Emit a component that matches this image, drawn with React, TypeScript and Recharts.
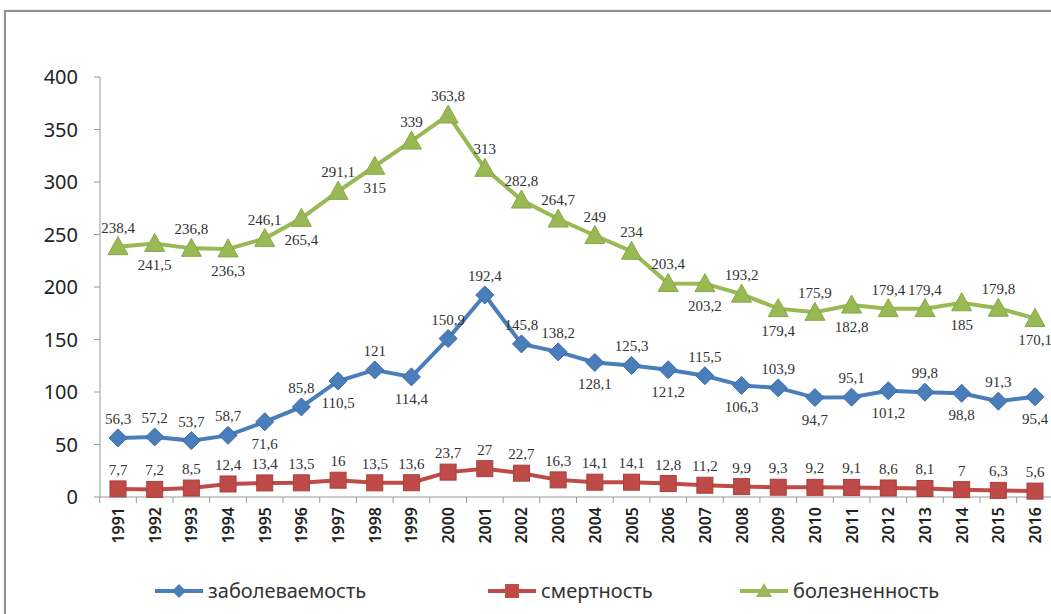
import { LineChart, Line, XAxis, YAxis, Legend, LabelList } from "recharts";

const years = [
  "1991", "1992", "1993", "1994", "1995", "1996", "1997", "1998", "1999", "2000",
  "2001", "2002", "2003", "2004", "2005", "2006", "2007", "2008", "2009", "2010",
  "2011", "2012", "2013", "2014", "2015", "2016",
];
const incidence = [
  56.3, 57.2, 53.7, 58.7, 71.6, 85.8, 110.5, 121, 114.4, 150.9,
  192.4, 145.8, 138.2, 128.1, 125.3, 121.2, 115.5, 106.3, 103.9, 94.7,
  95.1, 101.2, 99.8, 98.8, 91.3, 95.4,
];
const mortality = [
  7.7, 7.2, 8.5, 12.4, 13.4, 13.5, 16, 13.5, 13.6, 23.7,
  27, 22.7, 16.3, 14.1, 14.1, 12.8, 11.2, 9.9, 9.3, 9.2,
  9.1, 8.6, 8.1, 7, 6.3, 5.6,
];
const prevalence = [
  238.4, 241.5, 236.8, 236.3, 246.1, 265.4, 291.1, 315, 339, 363.8,
  313, 282.8, 264.7, 249, 234, 203.4, 203.2, 193.2, 179.4, 175.9,
  182.8, 179.4, 179.4, 185, 179.8, 170.1,
];
const yTicks = [0, 50, 100, 150, 200, 250, 300, 350, 400];

const data = years.map((year, i) => ({
  year,
  incidence: incidence[i],
  mortality: mortality[i],
  prevalence: prevalence[i],
}));

const BLUE = "#4a7ebb";
const RED = "#be4b48";
const GREEN = "#98b954";
const W = 1051;
const H = 614;
const PAD_L = 18;
const PAD_R = 16;
const STEP = (W - 100 - PAD_L - PAD_R) / (years.length - 1);

const fmt = (v: number) => String(v).replace(".", ",");

const Diamond = (props: any) => {
  const { cx, cy } = props;
  if (cx == null || cy == null) return null;
  const r = 9;
  return (
    <path
      d={`M${cx},${cy - r}L${cx + r},${cy}L${cx},${cy + r}L${cx - r},${cy}Z`}
      fill={BLUE}
      stroke="#3a6aa8"
      strokeWidth={1}
    />
  );
};

const Square = (props: any) => {
  const { cx, cy } = props;
  if (cx == null || cy == null) return null;
  const r = 8;
  return <rect x={cx - r} y={cy - r} width={r * 2} height={r * 2} fill={RED} stroke="#a8403d" strokeWidth={1} />;
};

const Triangle = (props: any) => {
  const { cx, cy } = props;
  if (cx == null || cy == null) return null;
  return (
    <path
      d={`M${cx},${cy - 10}L${cx + 10},${cy + 8}L${cx - 10},${cy + 8}Z`}
      fill={GREEN}
      stroke="#86a846"
      strokeWidth={1}
    />
  );
};

const makeLabel = (below: (i: number) => boolean) => (props: any) => {
  const { x, y, value, index } = props;
  const dy = below(index) ? 27 : -14;
  return (
    <text x={x} y={y + dy} textAnchor="middle" fontFamily="Liberation Serif" fontSize={15} fill="#333">
      {fmt(value)}
    </text>
  );
};

// where Excel put the labels under the point instead of over it
const greenBelow = (i: number) =>
  (i < 9 && i % 2 === 1) || (i > 15 && i <= 21 && i % 2 === 0) || i === 23 || i === 25;
const blueBelow = (i: number) => (i >= 4 && i <= 8 && i % 2 === 0) || (i >= 13 && i % 2 === 1);

const YearTick = (props: any) => {
  const { x, y, payload } = props;
  return (
    <g>
      <line x1={x - STEP / 2} x2={x - STEP / 2} y1={y - 8} y2={y - 2} stroke="#999" />
      <text
        transform={`translate(${x + 6},${y + 2}) rotate(-90)`}
        textAnchor="end"
        fontFamily="Noto Sans"
        fontWeight={600}
        fontSize={16}
        fill="#222"
      >
        {payload.value}
      </text>
    </g>
  );
};

const legendItems = [
  { name: "заболеваемость", color: BLUE, marker: "diamond", width: 333 },
  { name: "смертность", color: RED, marker: "square", width: 252 },
  { name: "болезненность", color: GREEN, marker: "triangle", width: 260 },
];

const LegendContent = () => (
  <div style={{ display: "flex", paddingLeft: 153 }}>
    {legendItems.map((it) => (
      <div key={it.name} style={{ display: "flex", alignItems: "center", width: it.width }}>
        <svg width={52} height={22}>
          <line x1={2} x2={50} y1={11} y2={11} stroke={it.color} strokeWidth={4} />
          {it.marker === "diamond" && <path d="M26,4L33,11L26,18L19,11Z" fill={it.color} />}
          {it.marker === "square" && <rect x={19} y={4} width={14} height={14} fill={it.color} />}
          {it.marker === "triangle" && <path d="M26,3L34,17L18,17Z" fill={it.color} />}
        </svg>
        <span style={{ fontFamily: "Noto Sans", fontSize: 20, color: "#333", marginLeft: 3 }}>{it.name}</span>
      </div>
    ))}
  </div>
);

export default function App() {
  return (
    <div style={{ position: "absolute", left: 0, top: 0, width: W, height: H, background: "#fff", overflow: "hidden" }}>
      <div
        style={{
          position: "absolute",
          left: 4,
          top: 10,
          width: 1100,
          height: 700,
          border: "2px solid #8f8f8f",
          boxShadow: "1px 1px 3px #bbb",
        }}
      />
      <div style={{ position: "absolute", left: 0, top: 0 }}>
        <LineChart width={W} height={H} data={data} margin={{ top: 77, right: 0, bottom: 10, left: 0 }}>
          <XAxis
            dataKey="year"
            interval={0}
            height={80}
            padding={{ left: PAD_L, right: PAD_R }}
            tick={<YearTick />}
            tickLine={false}
            axisLine={{ stroke: "#999" }}
          />
          <YAxis
            width={100}
            domain={[0, 400]}
            ticks={yTicks}
            tick={{ fontFamily: "Noto Sans", fontSize: 20, fill: "#222" }}
            tickLine={{ stroke: "#999" }}
            tickSize={6}
            tickMargin={16}
            axisLine={{ stroke: "#999" }}
          />
          <Legend verticalAlign="bottom" content={<LegendContent />} />
          <Line
            dataKey="incidence"
            name="заболеваемость"
            stroke={BLUE}
            strokeWidth={4}
            dot={<Diamond />}
            isAnimationActive={false}
          >
            <LabelList dataKey="incidence" content={makeLabel(blueBelow)} />
          </Line>
          <Line
            dataKey="mortality"
            name="смертность"
            stroke={RED}
            strokeWidth={4}
            dot={<Square />}
            isAnimationActive={false}
          >
            <LabelList dataKey="mortality" content={makeLabel(() => false)} />
          </Line>
          <Line
            dataKey="prevalence"
            name="болезненность"
            stroke={GREEN}
            strokeWidth={4}
            dot={<Triangle />}
            isAnimationActive={false}
          >
            <LabelList dataKey="prevalence" content={makeLabel(greenBelow)} />
          </Line>
        </LineChart>
      </div>
    </div>
  );
}
